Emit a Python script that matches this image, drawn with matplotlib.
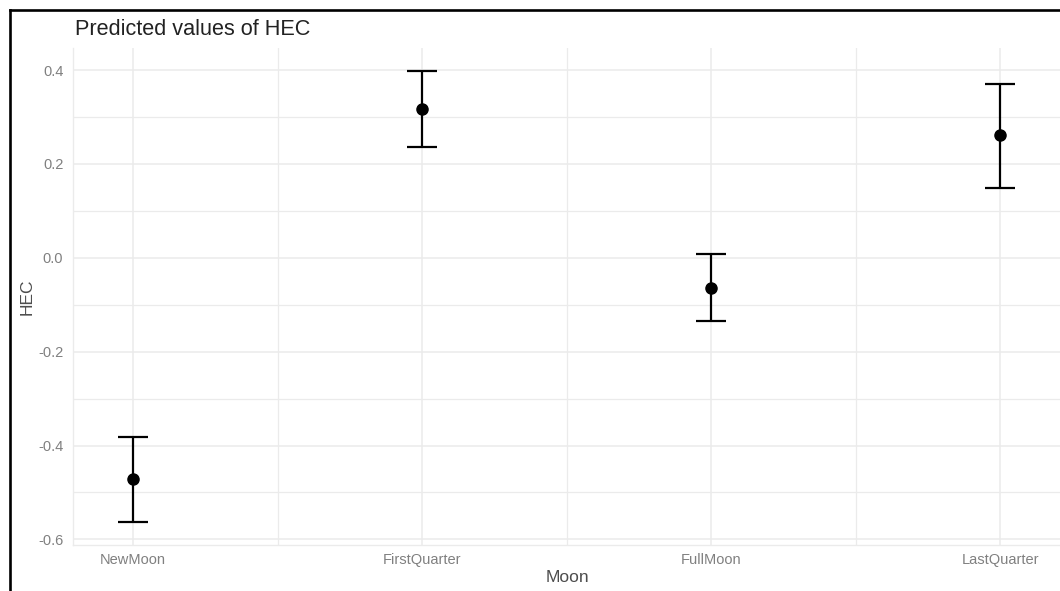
import matplotlib
matplotlib.use("Agg")
import matplotlib.pyplot as plt
from matplotlib.lines import Line2D
import numpy as np

categories = ["NewMoon", "FirstQuarter", "FullMoon", "LastQuarter"]
predicted = [-0.472, 0.318, -0.064, 0.261]
ci_low = [-0.562, 0.237, -0.135, 0.149]
ci_high = [-0.382, 0.398, 0.008, 0.371]
y_ticks = [-0.6, -0.4, -0.2, 0.0, 0.2, 0.4]
y_tick_labels = ["-0.6", "-0.4", "-0.2", "0.0", "0.2", "0.4"]

plt.rcParams['font.family'] = ['Liberation Sans', 'DejaVu Sans']

W, H = 1060, 591
fig = plt.figure(figsize=(W / 100, H / 100), dpi=100)
fig.patch.set_facecolor("white")

ax = fig.add_axes([73 / W, 1 - 545 / H, (1061 - 73) / W, (545 - 48) / H])
x = np.arange(1, len(categories) + 1)

ax.set_xlim(0.792, 4.21)
ax.set_ylim(-0.612, 0.447)

# grid
grid_col = "#EBEBEB"
ax.set_yticks(y_ticks)
ax.set_yticks([-0.5, -0.3, -0.1, 0.1, 0.3], minor=True)
ax.set_xticks(x)
ax.set_xticks([1.5, 2.5, 3.5], minor=True)
ax.grid(True, which="major", color=grid_col, lw=1.1, zorder=0)
ax.grid(True, which="minor", color=grid_col, lw=0.9, zorder=0)
ax.set_axisbelow(True)

for s in ["top", "right"]:
    ax.spines[s].set_visible(False)
for s in ["left", "bottom"]:
    ax.spines[s].set_color(grid_col)
    ax.spines[s].set_linewidth(1.0)

ax.tick_params(which="both", length=0)
ax.tick_params(axis="y", pad=7, labelsize=10.5, labelcolor="#808080")
ax.tick_params(axis="x", pad=5.5, labelsize=10.5, labelcolor="#808080")
ax.set_yticklabels(y_tick_labels)
ax.set_xticklabels(categories)

pred = np.array(predicted)
lo = np.array(ci_low)
hi = np.array(ci_high)
ax.errorbar(x, pred, yerr=[pred - lo, hi - pred], fmt="o", color="black",
            ecolor="black", elinewidth=1.6, capsize=10.5, capthick=1.6,
            markersize=8, zorder=3)

ax.set_xlabel("Moon", fontsize=12.5, color="#4D4D4D", labelpad=2.5)
ax.set_ylabel("HEC", fontsize=12.5, color="#4D4D4D", labelpad=2.5)

fig.text(75 / W, 1 - 35 / H, "Predicted values of HEC", fontsize=15.6,
         color="#222222", ha="left", va="baseline")

# image border (left and top)
fig.add_artist(Line2D([9.5 / W, 9.5 / W], [0, 1 - 9.5 / H], transform=fig.transFigure,
                      color="black", lw=1.9))
fig.add_artist(Line2D([9.5 / W, 1], [1 - 9.5 / H, 1 - 9.5 / H], transform=fig.transFigure,
                      color="black", lw=1.9))

fig.savefig("out.png", dpi=100)
